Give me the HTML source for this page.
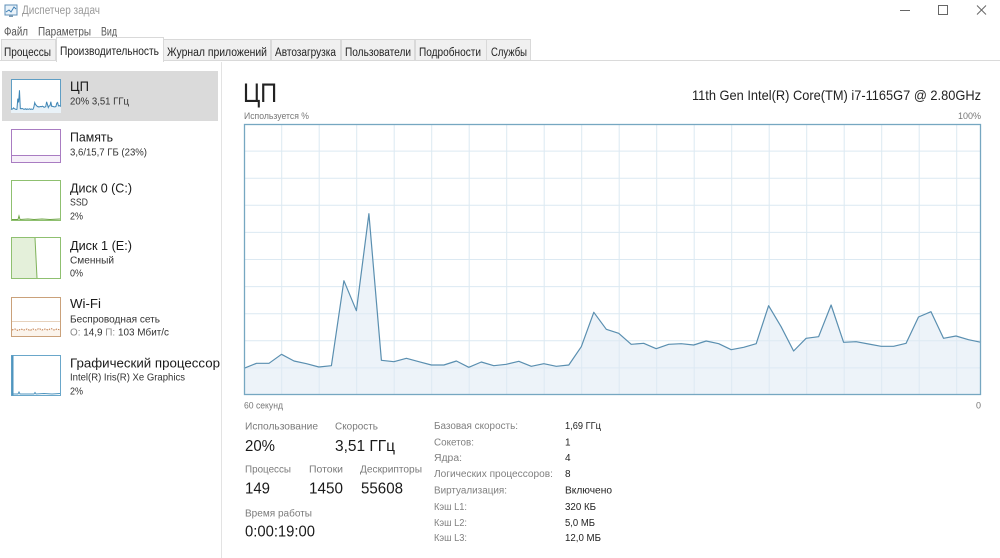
<!DOCTYPE html>
<html><head><meta charset="utf-8"><style>
html,body{margin:0;padding:0;background:#fff;}
svg{display:block;}
text{font-family:"Liberation Sans","DejaVu Sans",sans-serif;}
</style></head><body>
<svg width="1000" height="558" viewBox="0 0 1000 558" xmlns="http://www.w3.org/2000/svg">
<rect x="0" y="0" width="1000" height="558" fill="#fff"/>

<!-- title bar -->
<rect x="5" y="5" width="12" height="10" fill="#eaf3fa" stroke="#5d8fb8" stroke-width="1"/>
<polyline points="6,12 9,10 11,12 14,7 16,9" fill="none" stroke="#3d7fb5" stroke-width="1"/>
<rect x="9" y="15" width="4" height="2" fill="#7a9bb5"/>
<text x="22" y="14" font-size="11.5" fill="#9a9a9a" textLength="78" lengthAdjust="spacingAndGlyphs">Диспетчер задач</text>
<line x1="900" y1="10.5" x2="910" y2="10.5" stroke="#666" stroke-width="1"/>
<rect x="938.5" y="5.5" width="9" height="9" fill="none" stroke="#666" stroke-width="1"/>
<line x1="977" y1="5.5" x2="986" y2="14.5" stroke="#666" stroke-width="1"/>
<line x1="986" y1="5.5" x2="977" y2="14.5" stroke="#666" stroke-width="1"/>

<!-- menu -->
<text x="4" y="35.5" font-size="11.5" fill="#555" textLength="24" lengthAdjust="spacingAndGlyphs">Файл</text>
<text x="38" y="35.5" font-size="11.5" fill="#555" textLength="53" lengthAdjust="spacingAndGlyphs">Параметры</text>
<text x="101" y="35.5" font-size="11.5" fill="#555" textLength="16" lengthAdjust="spacingAndGlyphs">Вид</text>

<!-- tabs -->
<line x1="0" y1="60.5" x2="1000" y2="60.5" stroke="#dadada" stroke-width="1"/>
<g fill="#f0f0f0" stroke="#d9d9d9" stroke-width="1">
<rect x="1.5" y="39.5" width="54" height="21"/>
<rect x="163.5" y="39.5" width="107" height="21"/>
<rect x="271.5" y="39.5" width="69" height="21"/>
<rect x="341.5" y="39.5" width="73" height="21"/>
<rect x="415.5" y="39.5" width="71" height="21"/>
<rect x="486.5" y="39.5" width="44" height="21"/>
</g>
<rect x="56.5" y="37.5" width="107" height="24" fill="#fff" stroke="#d9d9d9" stroke-width="1"/>
<rect x="57" y="58" width="106" height="4" fill="#fff"/>
<g font-size="11.5" fill="#222">
<text x="4" y="56" textLength="47" lengthAdjust="spacingAndGlyphs">Процессы</text>
<text x="60" y="55" textLength="99" lengthAdjust="spacingAndGlyphs">Производительность</text>
<text x="167" y="56" textLength="100" lengthAdjust="spacingAndGlyphs">Журнал приложений</text>
<text x="275" y="56" textLength="61" lengthAdjust="spacingAndGlyphs">Автозагрузка</text>
<text x="345" y="56" textLength="66" lengthAdjust="spacingAndGlyphs">Пользователи</text>
<text x="419" y="56" textLength="62" lengthAdjust="spacingAndGlyphs">Подробности</text>
<text x="491" y="56" textLength="36" lengthAdjust="spacingAndGlyphs">Службы</text>
</g>

<!-- sidebar -->
<rect x="2" y="71" width="216" height="50" fill="#dadada"/>
<line x1="221.5" y1="62" x2="221.5" y2="558" stroke="#e3e3e3" stroke-width="1"/>

<!-- CPU thumb -->
<rect x="11.5" y="79.5" width="49" height="33" fill="#fff" stroke="#5f9ec4" stroke-width="1"/>
<g transform="translate(11,79) scale(0.06785,0.12546) translate(-244,-124)">
<polygon fill="#e9f2f8" points="244,368.3 256.5,363.3 269,363.3 281.5,354.3 294,361 306.5,363.7 318.9,367 331.4,365.7 343.9,280.7 356.4,310.7 368.9,213.7 381.4,360.3 393.9,361.7 406.4,358.3 418.9,361.7 431.4,365 443.9,365 456.4,361 468.8,367.3 481.3,362 493.8,365.7 506.3,364.3 518.8,361.3 531.3,366.3 543.8,363.7 556.3,366.3 568.8,365 581.3,346.7 593.8,312.3 606.3,329.3 618.7,333.3 631.2,344.3 643.7,343.3 656.2,348.7 668.7,344.3 681.2,343.7 693.7,345 706.2,341 718.7,343.7 731.2,349.7 743.7,347.3 756.2,343.7 768.6,305.7 781.1,326.7 793.6,351 806.1,338.3 818.6,336.7 831.1,305 843.6,342.3 856.1,341.7 868.6,344 881.1,346.3 893.6,346.3 906.1,343.3 918.5,317 931,311.7 943.5,338.3 956,336 968.5,339.7 981,342.3 981,395 244,395"/>
<polyline fill="none" stroke="#3f86b5" stroke-width="1" vector-effect="non-scaling-stroke" points="244,368.3 256.5,363.3 269,363.3 281.5,354.3 294,361 306.5,363.7 318.9,367 331.4,365.7 343.9,280.7 356.4,310.7 368.9,213.7 381.4,360.3 393.9,361.7 406.4,358.3 418.9,361.7 431.4,365 443.9,365 456.4,361 468.8,367.3 481.3,362 493.8,365.7 506.3,364.3 518.8,361.3 531.3,366.3 543.8,363.7 556.3,366.3 568.8,365 581.3,346.7 593.8,312.3 606.3,329.3 618.7,333.3 631.2,344.3 643.7,343.3 656.2,348.7 668.7,344.3 681.2,343.7 693.7,345 706.2,341 718.7,343.7 731.2,349.7 743.7,347.3 756.2,343.7 768.6,305.7 781.1,326.7 793.6,351 806.1,338.3 818.6,336.7 831.1,305 843.6,342.3 856.1,341.7 868.6,344 881.1,346.3 893.6,346.3 906.1,343.3 918.5,317 931,311.7 943.5,338.3 956,336 968.5,339.7 981,342.3"/>
</g>
<text x="70" y="91" font-size="13.5" fill="#1a1a1a" textLength="19" lengthAdjust="spacingAndGlyphs">ЦП</text>
<text x="70" y="104.6" font-size="10" fill="#333" textLength="59" lengthAdjust="spacingAndGlyphs">20%  3,51 ГГц</text>

<!-- Memory thumb -->
<rect x="11.5" y="155" width="49" height="7.5" fill="#f6f0f9"/>
<rect x="11.5" y="129.5" width="49" height="33" fill="none" stroke="#a97cc2" stroke-width="1"/>
<line x1="11.5" y1="155.5" x2="60.5" y2="155.5" stroke="#a97cc2" stroke-width="1"/>
<text x="70" y="141.5" font-size="13" fill="#1a1a1a" textLength="43" lengthAdjust="spacingAndGlyphs">Память</text>
<text x="70" y="155.6" font-size="10" fill="#333" textLength="77" lengthAdjust="spacingAndGlyphs">3,6/15,7 ГБ (23%)</text>

<!-- Disk 0 thumb -->
<rect x="11.5" y="180.5" width="49" height="40" fill="#fff" stroke="#8fc070" stroke-width="1"/>
<polyline fill="none" stroke="#6da544" stroke-width="1" points="12,219.5 18,219.5 19,216 20,219.5 28,219 34,219.5 42,219 50,219.5 60,219"/>
<text x="70" y="192.5" font-size="13" fill="#1a1a1a" textLength="62" lengthAdjust="spacingAndGlyphs">Диск 0 (C:)</text>
<text x="70" y="205.3" font-size="10" fill="#333" textLength="18" lengthAdjust="spacingAndGlyphs">SSD</text>
<text x="70" y="219.3" font-size="10" fill="#333" textLength="13" lengthAdjust="spacingAndGlyphs">2%</text>

<!-- Disk 1 thumb -->
<polygon points="12,238 35,238 37,278 12,278" fill="#e4f0da"/>
<rect x="11.5" y="237.5" width="49" height="41" fill="none" stroke="#8fc070" stroke-width="1"/>
<line x1="35" y1="238" x2="37" y2="278" stroke="#7fb25a" stroke-width="1"/>
<text x="70" y="249.8" font-size="13" fill="#1a1a1a" textLength="62" lengthAdjust="spacingAndGlyphs">Диск 1 (E:)</text>
<text x="70" y="263.6" font-size="10" fill="#333" textLength="44" lengthAdjust="spacingAndGlyphs">Сменный</text>
<text x="70" y="276.6" font-size="10" fill="#333" textLength="13" lengthAdjust="spacingAndGlyphs">0%</text>

<!-- Wi-Fi thumb -->
<rect x="12" y="330" width="48" height="6.5" fill="#fbf4ec"/>
<rect x="11.5" y="297.5" width="49" height="39" fill="none" stroke="#caa17a" stroke-width="1"/>
<line x1="12" y1="321.5" x2="60" y2="321.5" stroke="#e6d2bd" stroke-width="1"/>
<polyline fill="none" stroke="#c07a45" stroke-width="1" stroke-dasharray="1.5,1" points="12,330 15,329 18,330.5 21,329 24,330 27,329 30,330.5 33,329 36,330 39,328.5 42,330 45,329 48,330 51,328.5 54,330 57,329 60,330"/>
<text x="70" y="307.8" font-size="13" fill="#1a1a1a" textLength="31" lengthAdjust="spacingAndGlyphs">Wi-Fi</text>
<text x="70" y="322.6" font-size="10" fill="#333" textLength="90" lengthAdjust="spacingAndGlyphs">Беспроводная сеть</text>
<text x="70" y="335.3" font-size="10" fill="#333" textLength="99" lengthAdjust="spacingAndGlyphs"><tspan fill="#888">О:</tspan> 14,9 <tspan fill="#888">П:</tspan> 103 Мбит/с</text>

<!-- GPU thumb -->
<rect x="11.5" y="355.5" width="49" height="40" fill="#fff" stroke="#6aa7ca" stroke-width="1"/>
<line x1="12.5" y1="355.5" x2="12.5" y2="395.5" stroke="#4f95bf" stroke-width="2"/>
<polyline fill="none" stroke="#4f95bf" stroke-width="1" points="13,394 18,394 19,392 20,394 34,394 35,392.5 36,394 44,393.5 52,394 60,393.5"/>
<text x="70" y="367.5" font-size="13" fill="#1a1a1a" textLength="150" lengthAdjust="spacingAndGlyphs">Графический процессор</text>
<text x="70" y="380.3" font-size="10" fill="#333" textLength="115" lengthAdjust="spacingAndGlyphs">Intel(R) Iris(R) Xe Graphics</text>
<text x="70" y="394.3" font-size="10" fill="#333" textLength="13" lengthAdjust="spacingAndGlyphs">2%</text>

<!-- right header -->
<text x="243" y="102" font-size="27" fill="#222" textLength="34" lengthAdjust="spacingAndGlyphs">ЦП</text>
<text x="692" y="100" font-size="14" fill="#222" textLength="289" lengthAdjust="spacingAndGlyphs">11th Gen Intel(R) Core(TM) i7-1165G7 @ 2.80GHz</text>
<text x="244" y="119.2" font-size="9" fill="#777" textLength="65" lengthAdjust="spacingAndGlyphs">Используется %</text>
<text x="981" y="119.2" font-size="9" fill="#777" text-anchor="end">100%</text>

<!-- main graph -->
<g stroke="#dce9f2" stroke-width="1">
<line x1="281.7" y1="124" x2="281.7" y2="395"/><line x1="319.2" y1="124" x2="319.2" y2="395"/>
<line x1="356.7" y1="124" x2="356.7" y2="395"/><line x1="394.2" y1="124" x2="394.2" y2="395"/>
<line x1="431.7" y1="124" x2="431.7" y2="395"/><line x1="469.2" y1="124" x2="469.2" y2="395"/>
<line x1="506.7" y1="124" x2="506.7" y2="395"/><line x1="544.2" y1="124" x2="544.2" y2="395"/>
<line x1="581.7" y1="124" x2="581.7" y2="395"/><line x1="619.2" y1="124" x2="619.2" y2="395"/>
<line x1="656.7" y1="124" x2="656.7" y2="395"/><line x1="694.2" y1="124" x2="694.2" y2="395"/>
<line x1="731.7" y1="124" x2="731.7" y2="395"/><line x1="769.2" y1="124" x2="769.2" y2="395"/>
<line x1="806.7" y1="124" x2="806.7" y2="395"/><line x1="844.2" y1="124" x2="844.2" y2="395"/>
<line x1="881.7" y1="124" x2="881.7" y2="395"/><line x1="919.2" y1="124" x2="919.2" y2="395"/>
<line x1="956.7" y1="124" x2="956.7" y2="395"/>
<line x1="244" y1="151.1" x2="981" y2="151.1"/><line x1="244" y1="178.2" x2="981" y2="178.2"/>
<line x1="244" y1="205.3" x2="981" y2="205.3"/><line x1="244" y1="232.4" x2="981" y2="232.4"/>
<line x1="244" y1="259.5" x2="981" y2="259.5"/><line x1="244" y1="286.6" x2="981" y2="286.6"/>
<line x1="244" y1="313.7" x2="981" y2="313.7"/><line x1="244" y1="340.8" x2="981" y2="340.8"/>
<line x1="244" y1="367.9" x2="981" y2="367.9"/>
</g>
<polygon fill="#dfeaf4" fill-opacity="0.55" points="244,368.3 256.5,363.3 269,363.3 281.5,354.3 294,361 306.5,363.7 318.9,367 331.4,365.7 343.9,280.7 356.4,310.7 368.9,213.7 381.4,360.3 393.9,361.7 406.4,358.3 418.9,361.7 431.4,365 443.9,365 456.4,361 468.8,367.3 481.3,362 493.8,365.7 506.3,364.3 518.8,361.3 531.3,366.3 543.8,363.7 556.3,366.3 568.8,365 581.3,346.7 593.8,312.3 606.3,329.3 618.7,333.3 631.2,344.3 643.7,343.3 656.2,348.7 668.7,344.3 681.2,343.7 693.7,345 706.2,341 718.7,343.7 731.2,349.7 743.7,347.3 756.2,343.7 768.6,305.7 781.1,326.7 793.6,351 806.1,338.3 818.6,336.7 831.1,305 843.6,342.3 856.1,341.7 868.6,344 881.1,346.3 893.6,346.3 906.1,343.3 918.5,317 931,311.7 943.5,338.3 956,336 968.5,339.7 981,342.3 981,395 244,395"/>
<polyline fill="none" stroke="#5a8fb0" stroke-width="1.2" stroke-linejoin="round" points="244,368.3 256.5,363.3 269,363.3 281.5,354.3 294,361 306.5,363.7 318.9,367 331.4,365.7 343.9,280.7 356.4,310.7 368.9,213.7 381.4,360.3 393.9,361.7 406.4,358.3 418.9,361.7 431.4,365 443.9,365 456.4,361 468.8,367.3 481.3,362 493.8,365.7 506.3,364.3 518.8,361.3 531.3,366.3 543.8,363.7 556.3,366.3 568.8,365 581.3,346.7 593.8,312.3 606.3,329.3 618.7,333.3 631.2,344.3 643.7,343.3 656.2,348.7 668.7,344.3 681.2,343.7 693.7,345 706.2,341 718.7,343.7 731.2,349.7 743.7,347.3 756.2,343.7 768.6,305.7 781.1,326.7 793.6,351 806.1,338.3 818.6,336.7 831.1,305 843.6,342.3 856.1,341.7 868.6,344 881.1,346.3 893.6,346.3 906.1,343.3 918.5,317 931,311.7 943.5,338.3 956,336 968.5,339.7 981,342.3"/>
<rect x="244.5" y="124.5" width="736" height="270" fill="none" stroke="#76a7c1" stroke-width="1.3"/>

<text x="244" y="408.3" font-size="9" fill="#777" textLength="39" lengthAdjust="spacingAndGlyphs">60 секунд</text>
<text x="981" y="408.3" font-size="9" fill="#777" text-anchor="end">0</text>

<!-- bottom-left stats -->
<g font-size="10.5" fill="#7a7a7a">
<text x="245" y="429.3" textLength="73" lengthAdjust="spacingAndGlyphs">Использование</text>
<text x="335" y="429.3" textLength="43" lengthAdjust="spacingAndGlyphs">Скорость</text>
<text x="245" y="472.6" textLength="46" lengthAdjust="spacingAndGlyphs">Процессы</text>
<text x="309" y="472.6" textLength="34" lengthAdjust="spacingAndGlyphs">Потоки</text>
<text x="360" y="472.6" textLength="62" lengthAdjust="spacingAndGlyphs">Дескрипторы</text>
<text x="245" y="516.3" textLength="67" lengthAdjust="spacingAndGlyphs">Время работы</text>
</g>
<g font-size="15.5" fill="#1a1a1a">
<text x="245" y="451.2" textLength="30" lengthAdjust="spacingAndGlyphs">20%</text>
<text x="335" y="451.2" textLength="60" lengthAdjust="spacingAndGlyphs">3,51 ГГц</text>
<text x="245" y="493.6" textLength="25" lengthAdjust="spacingAndGlyphs">149</text>
<text x="309" y="493.6" textLength="34" lengthAdjust="spacingAndGlyphs">1450</text>
<text x="361" y="493.6" textLength="42" lengthAdjust="spacingAndGlyphs">55608</text>
<text x="245" y="536.6" textLength="70" lengthAdjust="spacingAndGlyphs">0:00:19:00</text>
</g>

<!-- right stats -->
<g font-size="10" fill="#808080">
<text x="434" y="429.2" textLength="84" lengthAdjust="spacingAndGlyphs">Базовая скорость:</text>
<text x="434" y="445.5" textLength="40" lengthAdjust="spacingAndGlyphs">Сокетов:</text>
<text x="434" y="461.2" textLength="28" lengthAdjust="spacingAndGlyphs">Ядра:</text>
<text x="434" y="476.8" textLength="119" lengthAdjust="spacingAndGlyphs">Логических процессоров:</text>
<text x="434" y="493.5" textLength="73" lengthAdjust="spacingAndGlyphs">Виртуализация:</text>
<text x="434" y="510.2" textLength="33" lengthAdjust="spacingAndGlyphs">Кэш L1:</text>
<text x="434" y="525.8" textLength="33" lengthAdjust="spacingAndGlyphs">Кэш L2:</text>
<text x="434" y="541.2" textLength="33" lengthAdjust="spacingAndGlyphs">Кэш L3:</text>
</g>
<g font-size="10" fill="#222">
<text x="565" y="429.2" textLength="36" lengthAdjust="spacingAndGlyphs">1,69 ГГц</text>
<text x="565" y="445.5">1</text>
<text x="565" y="461.2">4</text>
<text x="565" y="476.8">8</text>
<text x="565" y="493.5" textLength="47" lengthAdjust="spacingAndGlyphs">Включено</text>
<text x="565" y="510.2" textLength="31" lengthAdjust="spacingAndGlyphs">320 КБ</text>
<text x="565" y="525.8" textLength="30" lengthAdjust="spacingAndGlyphs">5,0 МБ</text>
<text x="565" y="541.2" textLength="36" lengthAdjust="spacingAndGlyphs">12,0 МБ</text>
</g>
</svg>
</body></html>
